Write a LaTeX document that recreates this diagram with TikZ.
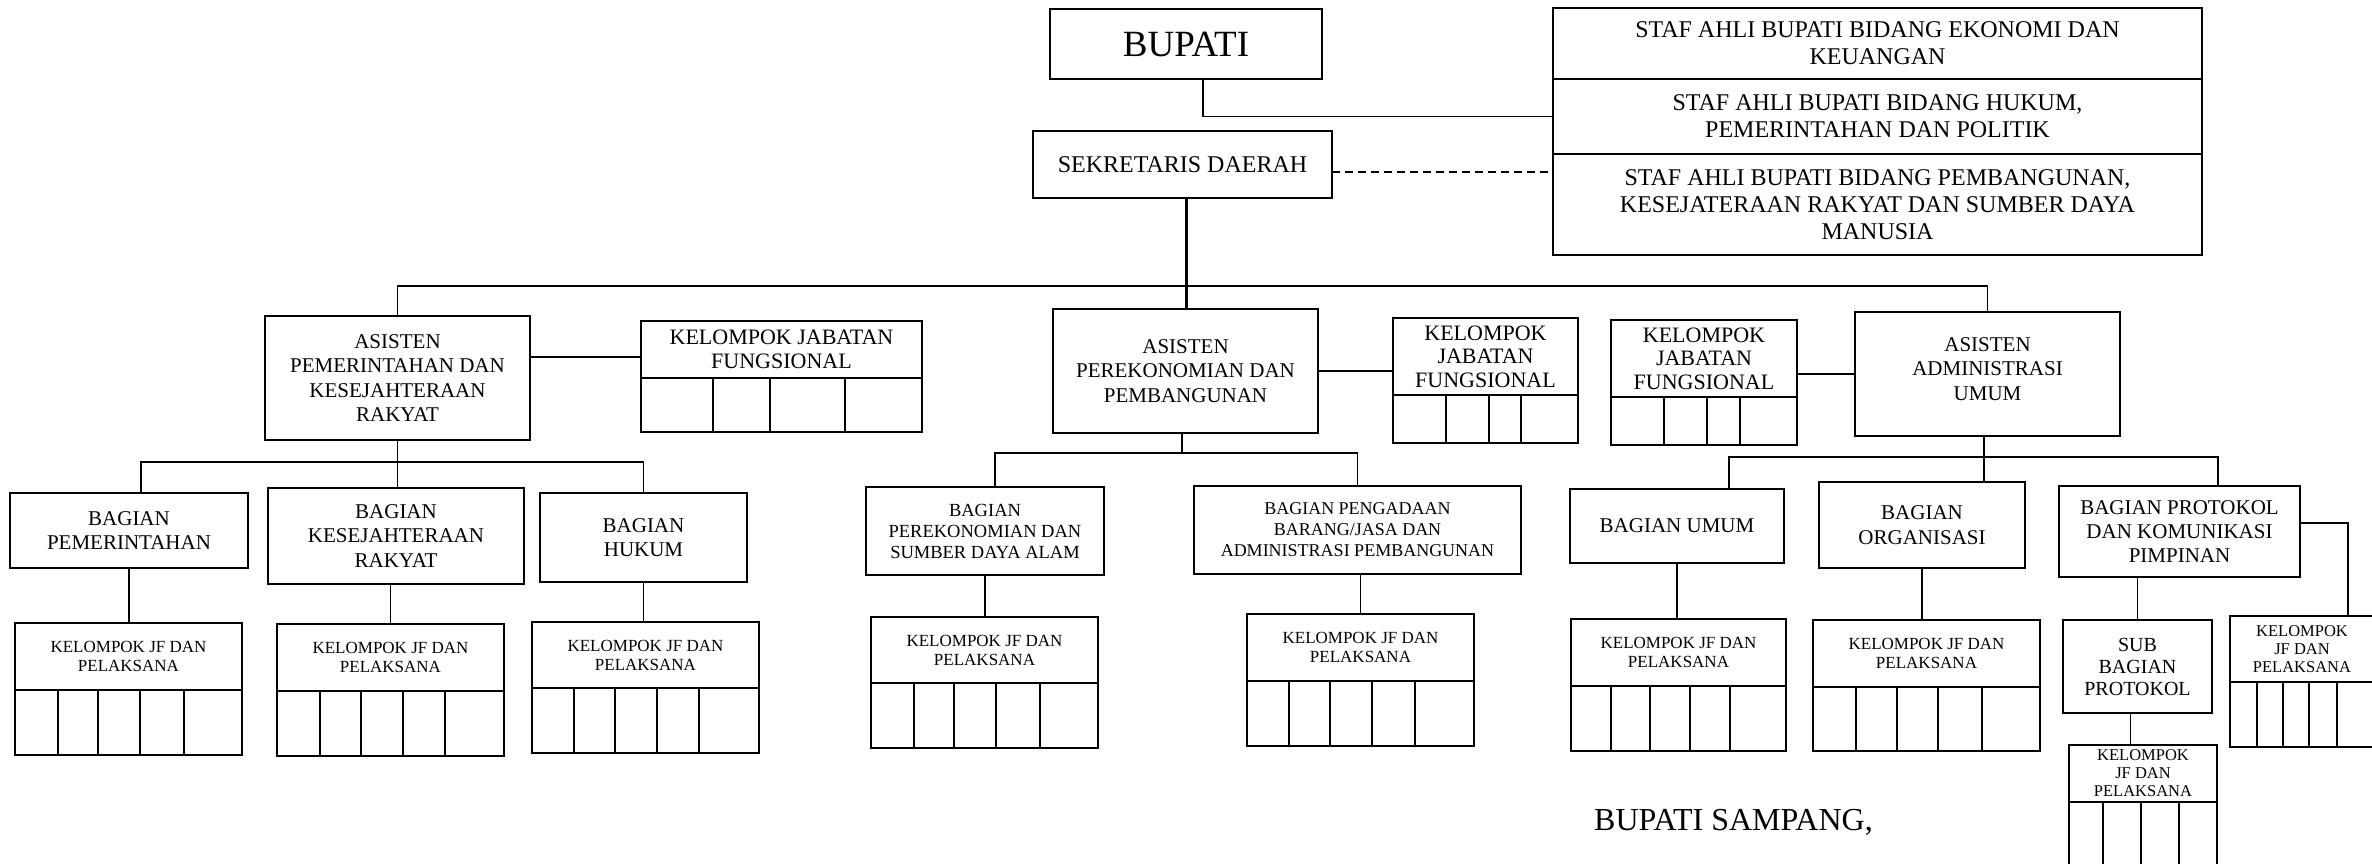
\documentclass[tikz,border=0pt]{standalone}
\usepackage{fontspec}
\setmainfont{Liberation Serif}
\usetikzlibrary{positioning}

\begin{document}
\begin{tikzpicture}[x=1pt,y=-1pt,
  box/.style={draw, line width=2pt, inner sep=0pt, outer sep=0pt, align=center},
  staf/.style={box, minimum width=649pt, font=\fontsize{24}{27}\selectfont},
  asisten/.style={box, minimum width=265pt, minimum height=124pt, font=\fontsize{21}{24.4}\selectfont},
  bagian/.style={box, font=\fontsize{21}{24.4}\selectfont},
  jabatan/.style={box, font=\fontsize{22}{23.5}\selectfont},
  jfp/.style={box, font=\fontsize{17}{19}\selectfont},
  selbox/.style={draw, line width=2pt, inner sep=0pt, outer sep=0pt},
  link/.style={line width=1.6pt}]
\useasboundingbox (0,0) rectangle (2372,863);
\clip (0,0) rectangle (2372,863);

% pimpinan dan staf ahli
\node[box, minimum width=272pt, minimum height=70pt, font=\fontsize{37}{40}\selectfont] (bupati) at (1186,44) {BUPATI};
\node[box, minimum width=299pt, minimum height=67pt, font=\fontsize{24}{27}\selectfont] (sekda) at (1182.5,164.5) {SEKRETARIS DAERAH};
\node[staf, minimum height=71pt] (staf1) at (1877.5,43.5) {STAF AHLI BUPATI BIDANG EKONOMI DAN\\KEUANGAN};
\node[staf, minimum height=75pt, below=0pt of staf1] (staf2) {STAF AHLI BUPATI BIDANG HUKUM,\\PEMERINTAHAN DAN POLITIK};
\node[staf, minimum height=101pt, below=0pt of staf2] (staf3) {STAF AHLI BUPATI BIDANG PEMBANGUNAN,\\KESEJATERAAN RAKYAT DAN SUMBER DAYA\\MANUSIA};

% asisten
\node[asisten] (aspem) at (397.5,378) {ASISTEN\\PEMERINTAHAN DAN\\KESEJAHTERAAN\\RAKYAT};
\node[asisten] (asperek) at (1185.5,371) {ASISTEN\\PEREKONOMIAN DAN\\PEMBANGUNAN};
\node[asisten, text depth=10pt] (asadm) at (1987.5,374) {ASISTEN\\ADMINISTRASI\\UMUM};

% kelompok jabatan fungsional
\node[jabatan, minimum width=281pt, minimum height=57pt] (kjfa) at (781.5,349.5) {KELOMPOK JABATAN\\FUNGSIONAL};
\node[selbox, minimum width=281pt, minimum height=54pt, below=0pt of kjfa] (kjfa-c) {};
\draw[line width=2pt] (713,378) -- (713,432) (770,378) -- (770,432) (845,378) -- (845,432);
\node[jabatan, minimum width=185pt, minimum height=77pt] (kjfb) at (1485.5,356.5) {KELOMPOK\\JABATAN\\FUNGSIONAL};
\node[selbox, minimum width=185pt, minimum height=48pt, below=0pt of kjfb] (kjfb-c) {};
\draw[line width=2pt] (1446,395) -- (1446,443) (1489,395) -- (1489,443) (1521,395) -- (1521,443);
\node[jabatan, minimum width=186pt, minimum height=77pt] (kjfc) at (1704,358.5) {KELOMPOK\\JABATAN\\FUNGSIONAL};
\node[selbox, minimum width=186pt, minimum height=48pt, below=0pt of kjfc] (kjfc-c) {};
\draw[line width=2pt] (1664,397) -- (1664,445) (1707,397) -- (1707,445) (1740,397) -- (1740,445);

% bagian
\node[bagian, minimum width=238pt, minimum height=75pt] (bpem) at (129,530.5) {BAGIAN\\PEMERINTAHAN};
\node[bagian, minimum width=256pt, minimum height=96pt] (bkes) at (396,536) {BAGIAN\\KESEJAHTERAAN\\RAKYAT};
\node[bagian, minimum width=207pt, minimum height=89pt] (bhuk) at (643.5,537.5) {BAGIAN\\HUKUM};
\node[bagian, font=\fontsize{18.5}{21}\selectfont, minimum width=238pt, minimum height=88pt] (bperek) at (985,531) {BAGIAN\\PEREKONOMIAN DAN\\SUMBER DAYA ALAM};
\node[bagian, font=\fontsize{18}{21}\selectfont, minimum width=327pt, minimum height=88pt] (bpeng) at (1357.5,530) {BAGIAN PENGADAAN\\BARANG/JASA DAN\\ADMINISTRASI PEMBANGUNAN};
\node[bagian, minimum width=214pt, minimum height=74pt] (bumum) at (1677,526) {BAGIAN UMUM};
\node[bagian, minimum width=206pt, minimum height=86pt] (borg) at (1922,525) {BAGIAN\\ORGANISASI};
\node[bagian, minimum width=241pt, minimum height=91pt] (bprot) at (2179.5,531.5) {BAGIAN PROTOKOL\\DAN KOMUNIKASI\\PIMPINAN};
\node[bagian, font=\fontsize{20}{22}\selectfont, minimum width=149pt, minimum height=93pt] (subprot) at (2137.5,666.5) {SUB\\BAGIAN\\PROTOKOL};

% kelompok jf dan pelaksana
\node[jfp, minimum width=227pt, minimum height=67pt] (jf1) at (128.5,656.5) {KELOMPOK JF DAN\\PELAKSANA};
\node[selbox, minimum width=227pt, minimum height=65pt, below=0pt of jf1] (jf1-c) {};
\draw[line width=2pt] (58,690) -- (58,755) (98,690) -- (98,755) (140,690) -- (140,755) (184,690) -- (184,755);
\node[jfp, minimum width=227pt, minimum height=67pt] (jf2) at (390.5,657.5) {KELOMPOK JF DAN\\PELAKSANA};
\node[selbox, minimum width=227pt, minimum height=65pt, below=0pt of jf2] (jf2-c) {};
\draw[line width=2pt] (320,691) -- (320,756) (361,691) -- (361,756) (403,691) -- (403,756) (445,691) -- (445,756);
\node[jfp, minimum width=227pt, minimum height=66pt] (jf3) at (645.5,655) {KELOMPOK JF DAN\\PELAKSANA};
\node[selbox, minimum width=227pt, minimum height=65pt, below=0pt of jf3] (jf3-c) {};
\draw[line width=2pt] (574,688) -- (574,753) (615,688) -- (615,753) (657,688) -- (657,753) (699,688) -- (699,753);
\node[jfp, minimum width=227pt, minimum height=66pt] (jf4) at (984.5,650) {KELOMPOK JF DAN\\PELAKSANA};
\node[selbox, minimum width=227pt, minimum height=65pt, below=0pt of jf4] (jf4-c) {};
\draw[line width=2pt] (914,683) -- (914,748) (954,683) -- (954,748) (996,683) -- (996,748) (1040,683) -- (1040,748);
\node[jfp, minimum width=227pt, minimum height=67pt] (jf5) at (1360.5,647.5) {KELOMPOK JF DAN\\PELAKSANA};
\node[selbox, minimum width=227pt, minimum height=65pt, below=0pt of jf5] (jf5-c) {};
\draw[line width=2pt] (1289,681) -- (1289,746) (1330,681) -- (1330,746) (1372,681) -- (1372,746) (1415,681) -- (1415,746);
\node[jfp, minimum width=215pt, minimum height=67pt] (jf6) at (1678.5,652.5) {KELOMPOK JF DAN\\PELAKSANA};
\node[selbox, minimum width=215pt, minimum height=65pt, below=0pt of jf6] (jf6-c) {};
\draw[line width=2pt] (1611,686) -- (1611,751) (1650,686) -- (1650,751) (1690,686) -- (1690,751) (1730,686) -- (1730,751);
\node[jfp, minimum width=227pt, minimum height=67pt] (jf7) at (1926.5,653.5) {KELOMPOK JF DAN\\PELAKSANA};
\node[selbox, minimum width=227pt, minimum height=64pt, below=0pt of jf7] (jf7-c) {};
\draw[line width=2pt] (1856,687) -- (1856,751) (1897,687) -- (1897,751) (1938,687) -- (1938,751) (1982,687) -- (1982,751);
\node[jfp, font=\fontsize{16.5}{18}\selectfont, minimum width=148pt, minimum height=57pt] (jf8) at (2143,773.5) {KELOMPOK\\JF DAN\\PELAKSANA};
\node[selbox, minimum width=148pt, minimum height=100pt, below=0pt of jf8] (jf8-c) {};
\draw[line width=2pt] (2103,802) -- (2103,870) (2141,802) -- (2141,870) (2179,802) -- (2179,870);
\node[jfp, font=\fontsize{16.5}{18}\selectfont, minimum width=144pt, minimum height=66pt] (jf9) at (2302,649) {KELOMPOK\\JF DAN\\PELAKSANA};
\node[selbox, minimum width=144pt, minimum height=65pt, below=0pt of jf9] (jf9-c) {};
\draw[line width=2pt] (2257,682) -- (2257,747) (2283,682) -- (2283,747) (2309,682) -- (2309,747) (2337,682) -- (2337,747);

% garis
\coordinate (bus0) at (0,286);
\coordinate (bus1) at (0,462);
\coordinate (bus2) at (0,453);
\coordinate (bus3) at (0,457);
\draw[link] ([xshift=17pt]bupati.south) |- (staf2.west);
\draw[link, dash pattern=on 8pt off 5pt] ([yshift=-7.5pt]sekda.east) -- ([yshift=-7.5pt]sekda.east -| staf3.west);
\draw[line width=3pt] ([xshift=3.5pt]sekda.south) -- ([xshift=3.5pt]sekda.south |- asperek.north);
\draw[link] (aspem.north) -- (aspem.north |- bus0) -- (asadm.north |- bus0) -- (asadm.north);
\draw[link] ([yshift=21pt]aspem.east) -- ([yshift=21pt]aspem.east -| kjfa.west);
\draw[link] (asperek.east) -- (asperek.east -| kjfb.west);
\draw[link] (asadm.west) -- (asadm.west -| kjfc.east);

\draw[link] ([xshift=12pt]bpem.north) -- ([xshift=12pt]bpem.north |- bus1) -- (bhuk.north |- bus1) -- (bhuk.north);
\draw[link] (aspem.south) -- (aspem.south |- bkes.north);
\draw[link] (bpem.south) -- (bpem.south |- jf1.north);
\draw[link] (jf2.north |- bkes.south) -- (jf2.north);
\draw[link] (bhuk.south) -- (bhuk.south |- jf3.north);

\draw[link] ([xshift=-3.5pt]asperek.south) -- ([xshift=-3.5pt]asperek.south |- bus2);
\draw[link] ([xshift=10pt]bperek.north) -- ([xshift=10pt]bperek.north |- bus2) -- (bpeng.north |- bus2) -- (bpeng.north);
\draw[link] (bperek.south) -- (bperek.south |- jf4.north);
\draw[link] (jf5.north |- bpeng.south) -- (jf5.north);

\draw[link] ([xshift=52pt]bumum.north) -- ([xshift=52pt]bumum.north |- bus3) -- ([xshift=38.5pt]bprot.north |- bus3) -- ([xshift=38.5pt]bprot.north);
\draw[link] ([xshift=-3.5pt]asadm.south) -- ([xshift=-3.5pt]asadm.south |- borg.north);
\draw[link] (bumum.south) -- (bumum.south |- jf6.north);
\draw[link] (borg.south) -- (borg.south |- jf7.north);
\draw[link] (subprot.north |- bprot.south) -- (subprot.north);
\draw[link] ([xshift=-7pt]subprot.south) -- ([xshift=-7pt]subprot.south |- jf8.north);
\draw[link] ([yshift=8.5pt]bprot.east) -| ([xshift=46pt]jf9.north);

% tanda tangan
\node[anchor=base west, inner sep=0pt, font=\fontsize{32}{36}\selectfont] (ttd) at (1594,830) {BUPATI SAMPANG,};
\end{tikzpicture}
\end{document}
